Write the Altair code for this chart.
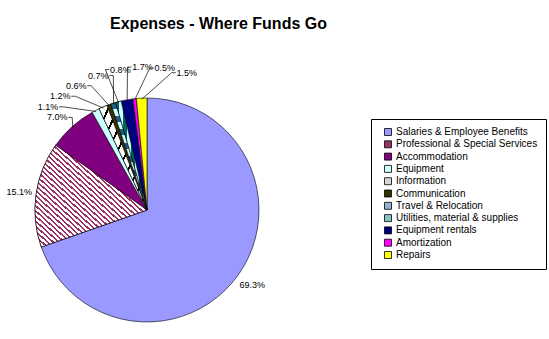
import math
import altair as alt
import pandas as pd

# ---- data ----
categories = [
    "Salaries & Employee Benefits",
    "Professional & Special Services",
    "Accommodation",
    "Equipment",
    "Information",
    "Communication",
    "Travel & Relocation",
    "Utilities, material & supplies",
    "Equipment rentals",
    "Amortization",
    "Repairs",
]
percent = [69.3, 15.1, 7.0, 1.1, 1.2, 0.6, 0.7, 0.8, 1.7, 0.5, 1.5]
colors = ["#9999FF", "#993366", "#800080", "#CCFFFF", "#D6D6D6", "#333300",
          "#8FB3D0", "#86C3C3", "#000080", "#FF00FF", "#FFFF00"]
labels = [f"{p:.1f}%" for p in percent]

# ---- layout ----
W, H, TOP = 549, 339, 36
CX, CY, R = 147, 210 - TOP, 112          # pie centre (plot coords) and radius
PH = H - TOP
FS = 9                                    # data-label font size


def text_w(s):
    em = {".": 0.278, "%": 0.889}
    return sum(em.get(ch, 0.556) for ch in s) * FS


# ---- label placement: start at slice mid-angles, spread apart until no overlap ----
total = sum(percent)
mids, cum = [], 0.0
for p in percent:
    mids.append((cum + p / 2) / total * 360.0)
    cum += p
small = [p < 5 for p in percent]
rads = [R + 31 if s else R + 17 for s in small]
ang = list(mids)
bw = [text_w(s) + 1.5 for s in labels]
bh = FS + 1.5


def xy(i):
    a = math.radians(ang[i])
    return rads[i] * math.sin(a), -rads[i] * math.cos(a)


for _ in range(3000):
    changed = False
    for i in range(len(ang) - 1):
        x1, y1 = xy(i)
        x2, y2 = xy(i + 1)
        if abs(x1 - x2) < (bw[i] + bw[i + 1]) / 2 and abs(y1 - y2) < bh:
            ang[i] -= 0.05
            ang[i + 1] += 0.05
            changed = True
    if not changed:
        break

rows, lead = [], []
for i, c in enumerate(categories):
    lx, ly = xy(i)
    rows.append(dict(category=c, value=percent[i], order=i, label=labels[i],
                     lx=lx / R, ly=-ly / R))
    if abs(ang[i] - mids[i]) > 1.0:
        a = math.radians(mids[i])
        ex, ey = 0.99 * R * math.sin(a), -0.99 * R * math.cos(a)
        if lx < ex:
            sx, kx = lx + bw[i] / 2, lx + bw[i] / 2 + 4
        else:
            sx, kx = lx - bw[i] / 2, lx - bw[i] / 2 - 4
        for k, (px, py) in enumerate([(sx, ly), (kx, ly), (ex, ey)]):
            lead.append(dict(category=c, k=k, x=px / R, y=-py / R))
df = pd.DataFrame(rows)
lead_df = pd.DataFrame(lead)

xscale = alt.Scale(domain=[-CX / R, (W - CX) / R], range=[0, W], nice=False, zero=False)
yscale = alt.Scale(domain=[-(PH - CY) / R, CY / R], range=[PH, 0], nice=False, zero=False)
tscale = alt.Scale(domain=[0, 1], range=[0, 2 * math.pi])


def stripes(c1, c2, n, x1, y1, x2, y2, duty=0.4):
    stops = []
    for i in range(n):
        a, b, e = i / n, (i + duty) / n, (i + 1) / n
        stops += [alt.GradientStop(offset=a, color=c1), alt.GradientStop(offset=b, color=c1),
                  alt.GradientStop(offset=b, color=c2), alt.GradientStop(offset=e, color=c2)]
    return alt.Gradient(gradient="linear", stops=stops, x1=x1, y1=y1, x2=x2, y2=y2)


base = alt.Chart(df).transform_window(
    cum="sum(value)", sort=[alt.SortField("order")], frame=[None, 0]
).transform_joinaggregate(tot="sum(value)").transform_calculate(
    start="(datum.cum - datum.value) / datum.tot", end="datum.cum / datum.tot"
)

pos = dict(
    x=alt.X(datum=0, scale=xscale, axis=None),
    y=alt.Y(datum=0, scale=yscale, axis=None),
    theta=alt.Theta("start:Q", scale=tscale),
    theta2="end:Q",
)

pie = base.mark_arc(radius=R, stroke="#000000", strokeWidth=0.6).encode(
    color=alt.Color(
        "category:N",
        scale=alt.Scale(domain=categories, range=colors),
        sort=categories,
        legend=alt.Legend(
            title=None, orient="none", legendX=371, legendY=119 - TOP,
            symbolType="square", symbolSize=49, symbolStrokeColor="#000000",
            symbolStrokeWidth=0.8, symbolOffset=4,
            labelFont="Liberation Sans", labelFontSize=10, labelColor="#000000",
            labelOffset=3, labelLimit=300, rowPadding=0.3, padding=8,
            strokeColor="#000000", fillColor="#FFFFFF",
        ),
    ),
    **pos,
)

patterns = {
    "Professional & Special Services": stripes("#993366", "#FFFFFF", 40, 0, 1, 1, 0),
    "Information": stripes("#000000", "#FFFFFF", 10, 0, 0, 1, 1, duty=0.22),
    "Travel & Relocation": stripes("#1F5F8F", "#CCFFFF", 8, 0, 0, 0, 1, duty=0.45),
    "Utilities, material & supplies": stripes("#006666", "#CCFFFF", 4, 0, 0, 1, 0, duty=0.45),
}
overlays = [
    base.transform_filter(alt.datum.category == name)
    .mark_arc(radius=R, fill=grad, stroke="#000000", strokeWidth=0.6)
    .encode(**pos)
    for name, grad in patterns.items()
]

leaders = alt.Chart(lead_df).mark_line(color="#000000", strokeWidth=0.7).encode(
    x=alt.X("x:Q", scale=xscale, axis=None),
    y=alt.Y("y:Q", scale=yscale, axis=None),
    detail="category:N",
    order="k:Q",
)

text = alt.Chart(df).mark_text(
    font="Liberation Sans", fontSize=FS, color="#000000", align="center", baseline="middle"
).encode(
    x=alt.X("lx:Q", scale=xscale, axis=None),
    y=alt.Y("ly:Q", scale=yscale, axis=None),
    text="label:N",
)

chart = alt.layer(pie, *overlays, leaders, text).properties(
    width=W, height=PH,
    title=alt.TitleParams(
        "Expenses - Where Funds Go", font="Liberation Sans", fontSize=16,
        fontWeight="bold", color="#000000", anchor="middle", dx=-56, offset=4,
    ),
    autosize=alt.AutoSizeParams(type="none"),
    padding={"top": TOP, "left": 0, "right": 0, "bottom": 0},
).configure_view(stroke=None).resolve_scale(color="independent")

chart.save("out.html", embed_options={"renderer": "svg", "actions": False})
